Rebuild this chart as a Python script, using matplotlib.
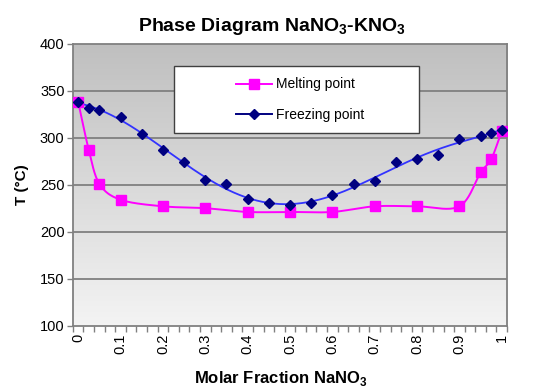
import numpy as np
import matplotlib
matplotlib.use("Agg")
import matplotlib.pyplot as plt
from matplotlib.patches import Rectangle

plt.rcParams['font.family'] = ['Liberation Sans', 'DejaVu Sans']
plt.rcParams['mathtext.fontset'] = 'custom'
plt.rcParams['mathtext.rm'] = 'Liberation Sans'
plt.rcParams['mathtext.bf'] = 'Liberation Sans:bold'

# ---- data ----
melt_x = [0, 0.025, 0.05, 0.1, 0.2, 0.3, 0.4, 0.5, 0.6, 0.7, 0.8, 0.9, 0.95, 0.975, 1.0]
melt_y = [338, 287, 251, 234, 227, 225, 221, 221, 221, 227, 227, 227, 263, 277, 307]

freeze_x = [0, 0.025, 0.05, 0.1, 0.15, 0.2, 0.25, 0.3, 0.35, 0.4, 0.45, 0.5, 0.55,
            0.6, 0.65, 0.7, 0.75, 0.8, 0.85, 0.9, 0.95, 0.975, 1.0]
freeze_y = [338, 332, 329, 322, 304, 287, 274, 255, 251, 235, 230, 228, 230,
            239, 251, 254, 274, 277, 282, 299, 302, 305, 308]

xtick_vals = [0, 0.1, 0.2, 0.3, 0.4, 0.5, 0.6, 0.7, 0.8, 0.9, 1]
xtick_labels = ['0', '0.1', '0.2', '0.3', '0.4', '0.5', '0.6', '0.7', '0.8', '0.9', '1']
ytick_vals = [100, 150, 200, 250, 300, 350, 400]


def catmull_rom(xs, ys, n=24):
    xs = np.asarray(xs, float)
    ys = np.asarray(ys, float)
    P = np.column_stack([xs, ys])
    P = np.vstack([2 * P[0] - P[1], P, 2 * P[-1] - P[-2]])
    out = []
    t = np.linspace(0, 1, n)[:, None]
    for i in range(1, len(P) - 2):
        p0, p1, p2, p3 = P[i - 1], P[i], P[i + 1], P[i + 2]
        seg = 0.5 * ((2 * p1) + (-p0 + p2) * t + (2 * p0 - 5 * p1 + 4 * p2 - p3) * t ** 2
                     + (-p0 + 3 * p1 - 3 * p2 + p3) * t ** 3)
        out.append(seg)
    out = np.vstack(out)
    return out[:, 0], out[:, 1]


fig = plt.figure(figsize=(5.4, 3.89), dpi=100)
fig.patch.set_facecolor('white')
ax = fig.add_axes([0.135, 0.1627, 0.804, 0.725])

# gradient background
grad = np.linspace(0, 1, 256)[:, None]
c_top = np.array([0.75, 0.75, 0.75])
c_bot = np.array([0.955, 0.955, 0.955])
img = c_top[None, None, :] * (1 - grad[:, :, None]) + c_bot[None, None, :] * grad[:, :, None]
ax.imshow(img, extent=[0, 1, 0, 1], transform=ax.transAxes, aspect='auto', zorder=0)

ax.set_xlim(-0.0125, 1.0125)
ax.set_ylim(100, 400)

for yv in ytick_vals[1:-1]:
    ax.axhline(yv, color='#808080', lw=1.3, zorder=1)

# melting: smooth line + square markers
mx, my = catmull_rom(melt_x, melt_y)
ax.plot(mx, my, color='#ff00ff', lw=1.4, zorder=3)
ax.plot(melt_x, melt_y, ls='none', marker='s', ms=6.5, color='#ff00ff',
        mec='#ff00ff', zorder=4)

# freezing: smooth trend line + diamond markers
coef = np.polyfit(freeze_x, freeze_y, 6)
fx = np.linspace(0, 1, 300)
ax.plot(fx, np.polyval(coef, fx), color='#3333ff', lw=1.3, zorder=3)
ax.plot(freeze_x, freeze_y, ls='none', marker='D', ms=4.8, color='#000080', zorder=5)

# ticks
ax.set_yticks(ytick_vals)
ax.set_yticklabels([str(v) for v in ytick_vals], fontsize=10.5)
ax.set_xticks(xtick_vals)
ax.set_xticklabels(xtick_labels, rotation=90, fontsize=10.5)
ax.tick_params(axis='x', length=0, pad=6)
ax.tick_params(axis='y', length=4, color='#808080', width=1, pad=2)
ax.set_xticks(np.arange(-0.0125, 1.02, 0.025), minor=True)
ax.tick_params(axis='x', which='minor', length=4, color='#808080', width=1)

for s in ax.spines.values():
    s.set_color('#808080')
    s.set_linewidth(1.3)

fig.text(0.504, 0.958, r'Phase Diagram NaNO$_\mathbf{3}$-KNO$_\mathbf{3}$', fontsize=14,
         fontweight='bold', ha='center', va='top')
ax.set_ylabel('T (°C)', fontsize=11, fontweight='bold', labelpad=8)
ax.set_xlabel(r'Molar Fraction NaNO$_\mathbf{3}$', fontsize=12, fontweight='bold', labelpad=3)
ax.xaxis.set_label_coords(0.479, -0.155)

# legend box
ax.add_patch(Rectangle((0.233, 0.683), 0.564, 0.238, transform=ax.transAxes,
                       facecolor='white', edgecolor='#404040', lw=1, zorder=6))
h1, = ax.plot([], [], color='#ff00ff', marker='s', ms=6.5, lw=1.4)
h2, = ax.plot([], [], color='#000080', marker='D', ms=4.8, lw=1.4)
leg = ax.legend([h1, h2], ['Melting point', 'Freezing point'], frameon=False,
                loc='upper left', bbox_to_anchor=(0.36, 0.905), fontsize=10,
                handlelength=2.6, handletextpad=0.3, labelspacing=1.2, borderpad=0)
leg.set_zorder(7)

fig.savefig('out.png', dpi=100)
